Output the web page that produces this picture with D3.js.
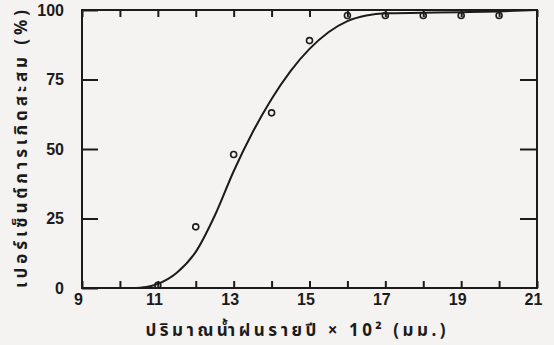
<!DOCTYPE html>
<html>
<head>
<meta charset="utf-8">
<script src="https://cdn.jsdelivr.net/npm/d3@7"></script>
<style>
	body { margin: 0; background: #f4f3f1; }
	svg { display: block; }
	.axis path, .axis line { stroke: #1b1b1b; stroke-width: 2; }
	.axis text { font-family: "Liberation Sans", Arial, sans-serif; font-weight: bold; font-size: 16px; fill: #1b1b1b; }
	.axis-title { font-family: "Noto Sans Thai", "Noto Sans", "DejaVu Sans", sans-serif; font-weight: bold; font-size: 17px; fill: #1b1b1b; }
</style>
</head>
<body>
<svg width="554" height="345"></svg>
<script>
// observed cumulative occurrence (%) against annual rainfall (x 10^2 mm)
const rainfall = [11, 12, 13, 14, 15, 16, 17, 18, 19, 20]
const percent = [1, 22, 48, 63, 89, 98, 98, 98, 98, 98]

// fitted curve
const curveX = [10.3, 10.7, 11, 11.5, 12, 12.5, 13, 13.5, 14, 14.5, 15, 15.5, 16, 16.5, 17, 18, 19, 20, 21]
const curveY = [0, 0.4, 1.5, 5.5, 13, 26, 42, 56, 68, 78, 86, 92, 96, 98, 98.8, 99, 99.2, 99.5, 100]

const xTicks = d3.range(9, 22)
const xLabels = [9, 11, 13, 15, 17, 19, 21]
const yTicks = [0, 25, 50, 75, 100]

const xTitle = "ปริมาณน้ำฝนรายปี × 10² (มม.)"
const yTitle = "เปอร์เซ็นต์การเกิดสะสม (%)"

const margin = {top: 10, right: 17, bottom: 57, left: 82}
const width = 554 - margin.left - margin.right
const height = 345 - margin.top - margin.bottom

const svg = d3.select("svg")
	.append("g")
	.attr("transform", "translate(" + margin.left + "," + margin.top + ")")

const x = d3.scaleLinear().domain([9, 21]).range([0, width])
const y = d3.scaleLinear().domain([0, 100]).range([height, 0])

// frame
svg.append("rect")
	.attr("width", width)
	.attr("height", height)
	.attr("fill", "none")
	.attr("stroke", "#1b1b1b")
	.attr("stroke-width", 2)

svg.append("g")
	.attr("class", "axis axis--x")
	.attr("transform", "translate(0," + height + ")")
	.call(d3.axisBottom(x).tickValues(xTicks).tickSize(-7).tickPadding(6)
		.tickFormat(d => xLabels.includes(d) ? d : ""))
	.call(g => g.select(".domain").remove())
	.selectAll("text").attr("dx", "-0.25em")

svg.append("g")
	.attr("class", "axis axis--top")
	.call(d3.axisTop(x).tickValues(xTicks).tickSize(-7).tickFormat(""))
	.call(g => g.select(".domain").remove())

svg.append("g")
	.attr("class", "axis axis--y")
	.call(d3.axisLeft(y).tickValues(yTicks).tickSize(-16).tickPadding(18))
	.call(g => g.select(".domain").remove())

svg.append("g")
	.attr("class", "axis axis--right")
	.attr("transform", "translate(" + width + ",0)")
	.call(d3.axisRight(y).tickValues([25, 50, 75]).tickSize(-17).tickFormat(""))
	.call(g => g.select(".domain").remove())

// fitted curve
const line = d3.line()
	.x(i => x(curveX[i]))
	.y(i => y(curveY[i]))
	.curve(d3.curveMonotoneX)
svg.append("path")
	.datum(d3.range(curveX.length))
	.attr("fill", "none")
	.attr("stroke", "#1b1b1b")
	.attr("stroke-width", 2)
	.attr("d", line)

// observed points
svg.selectAll(".dot")
	.data(rainfall)
	.enter().append("circle")
	.attr("class", "dot")
	.attr("cx", d => x(d))
	.attr("cy", (d, i) => y(percent[i]))
	.attr("r", 3)
	.attr("fill", "none")
	.attr("stroke", "#1b1b1b")
	.attr("stroke-width", 1.6)

// titles
svg.append("text")
	.attr("class", "axis-title")
	.attr("x", width / 2 - 14)
	.attr("y", height + 48)
	.attr("text-anchor", "middle")
	.attr("textLength", 300)
	.attr("lengthAdjust", "spacing")
	.text(xTitle)

svg.append("text")
	.attr("class", "axis-title")
	.attr("transform", "rotate(-90)")
	.attr("x", -height / 2)
	.attr("y", -55)
	.attr("text-anchor", "middle")
	.attr("textLength", 278)
	.attr("lengthAdjust", "spacing")
	.text(yTitle)
</script>
</body>
</html>
